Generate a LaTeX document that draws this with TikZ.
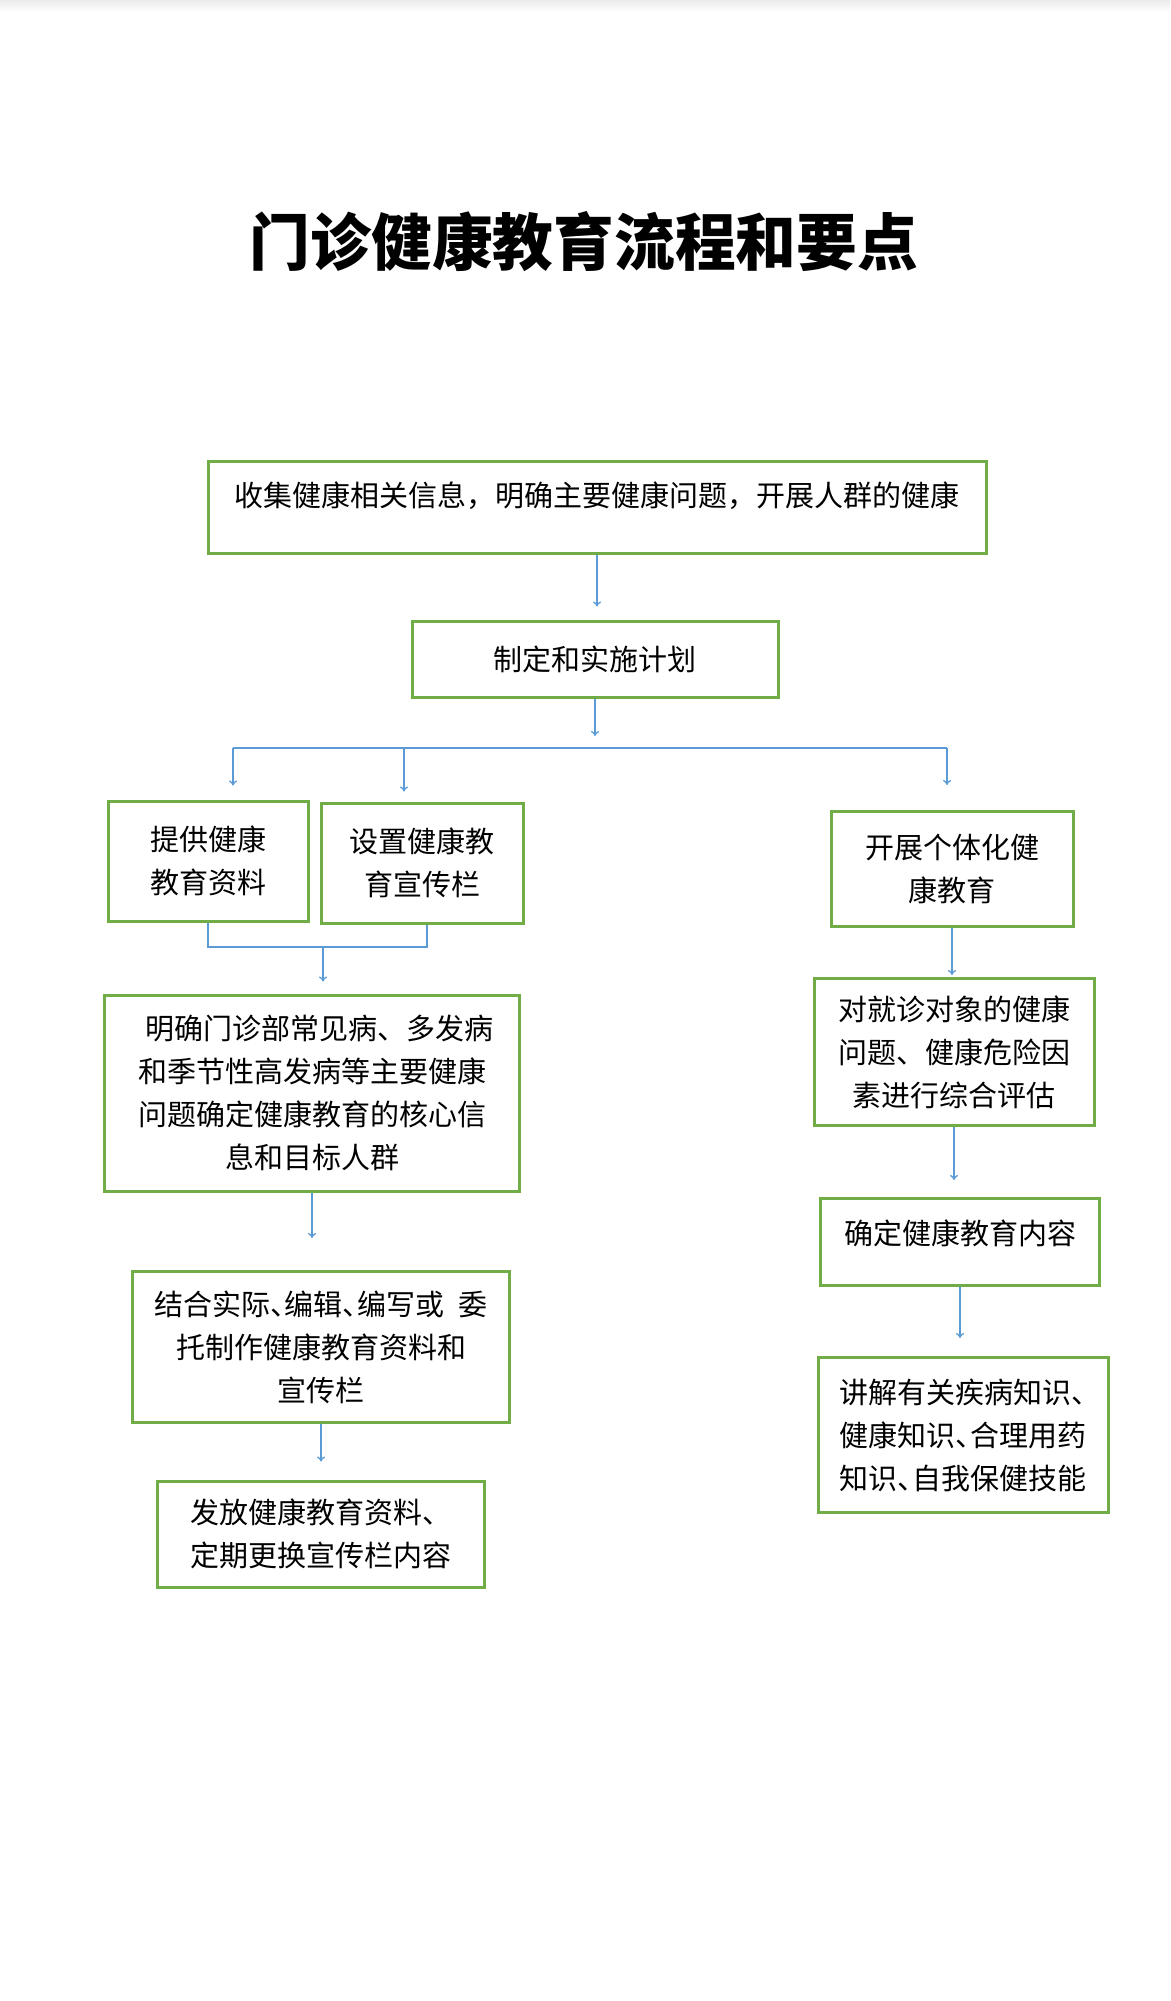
\documentclass[tikz,border=0pt]{standalone}
\usepackage{fontspec}
\setmainfont{Noto Sans CJK SC}
\usetikzlibrary{arrows.meta}
\definecolor{boxgreen}{RGB}{112,173,71}
\definecolor{linkblue}{RGB}{91,155,213}
\newcommand{\hdun}{、\kern-0.5em}

\begin{document}
\begin{tikzpicture}[x=1pt, y=-1pt,
  box/.style={draw=boxgreen, line width=3pt, fill=white, inner sep=0pt, align=center,
    font=\fontsize{29}{43}\selectfont},
  link/.style={draw=linkblue, line width=1.3pt},
  arr/.style={link, -{To[length=5pt, width=8pt]}}]
  \useasboundingbox (0,0) rectangle (1170,2001);
  \fill[white] (0,0) rectangle (1170,2001);
  \shade[top color=black!8, bottom color=white] (0,0) rectangle (1170,12);

  \node (title) at (584,242) {\fontsize{62}{62}\selectfont\bfseries\scalebox{0.98}[1]{门诊健康教育流程和要点}};

  \node[box, minimum width=778pt, minimum height=92pt, text height=26pt, text depth=28pt] (collect) at (597,507) {收集健康相关信息，明确主要健康问题，开展人群的健康};
  \node[box, minimum width=366pt, minimum height=76pt] (plan) at (595,659) {制定和实施计划};

  \node[box, minimum width=200pt, minimum height=120pt] (material) at (208,861) {提供健康\\教育资料};
  \node[box, minimum width=202pt, minimum height=120pt] (board) at (422,863) {设置健康教\\育宣传栏};
  \node[box, minimum width=415pt, minimum height=196pt] (core) at (312,1093) {\hspace*{0.5em}明确门诊部常见病、多发病\\和季节性高发病等主要健康\\问题确定健康教育的核心信\\息和目标人群};
  \node[box, minimum width=377pt, minimum height=151pt] (make) at (321,1347) {结合实际\hdun 编辑\hdun 编写或\hspace{0.5em}委\\托制作健康教育资料和\\宣传栏};
  \node[box, minimum width=327pt, minimum height=106pt] (hand) at (321,1534) {发放健康教育资料、\\定期更换宣传栏内容};

  \node[box, minimum width=242pt, minimum height=115pt] (indiv) at (952,869) {开展个体化健\\康教育};
  \node[box, minimum width=280pt, minimum height=147pt] (assess) at (954,1052) {对就诊对象的健康\\问题、健康危险因\\素进行综合评估};
  \node[box, minimum width=279pt, minimum height=87pt, text height=26pt, text depth=22pt] (content) at (960,1242) {确定健康教育内容};
  \node[box, minimum width=290pt, minimum height=155pt, align=left] (explain) at (963,1435) {讲解有关疾病知识\hdun\\健康知识\hdun 合理用药\\知识\hdun 自我保健技能};

  \coordinate (barL) at (233,748);
  \coordinate (barM) at (404,748);
  \coordinate (barR) at (947,748);
  \coordinate (joinL) at (208,947);
  \coordinate (joinM) at (323,947);
  \coordinate (joinR) at (427,947);

  \draw[arr, shorten >=13pt] (collect.south) -- (collect.south |- plan.north);
  \draw[arr, shorten >=12pt] (plan.south) -- (plan.south |- barL);
  \draw[link] (barL) -- (barR);
  \draw[arr, shorten >=14pt] (barL) -- (barL |- material.north);
  \draw[arr, shorten >=10pt] (barM) -- (barM |- board.north);
  \draw[arr, shorten >=25pt] (barR) -- (barR |- indiv.north);

  \draw[link] (material.south) -- (joinL) -- (joinR) -- (joinR |- board.south);
  \draw[arr, shorten >=12pt] (joinM) -- (joinM |- core.north);
  \draw[arr, shorten >=32pt] (core.south) -- (core.south |- make.north);
  \draw[arr, shorten >=18pt] (make.south) -- (make.south |- hand.north);

  \draw[arr, shorten >=2pt] (indiv.south) -- (indiv.south |- assess.north);
  \draw[arr, shorten >=17pt] (assess.south) -- (assess.south |- content.north);
  \draw[arr, shorten >=18pt] (content.south) -- (content.south |- explain.north);
\end{tikzpicture}
\end{document}
